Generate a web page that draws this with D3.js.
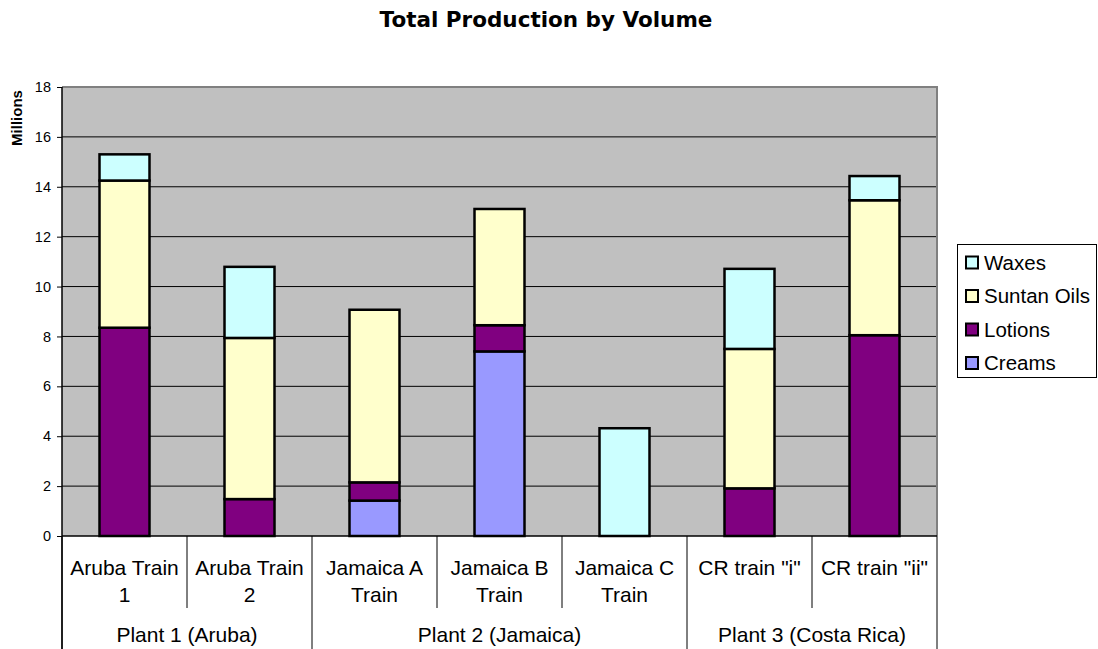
<!DOCTYPE html>
<html><head><meta charset="utf-8">
<script src="https://cdn.jsdelivr.net/npm/d3@7"></script>
<style>body{margin:0;background:#fff}svg{display:block}</style>
</head><body><svg id="c" width="1098" height="649"></svg>
<script>
const categories = ["Aruba Train 1","Aruba Train 2","Jamaica A Train","Jamaica B Train","Jamaica C Train","CR train \"i\"","CR train \"ii\""];
const categoryLines = [["Aruba Train","1"],["Aruba Train","2"],["Jamaica A","Train"],["Jamaica B","Train"],["Jamaica C","Train"],["CR train \"i\""],["CR train \"ii\""]];
const groups = ["Plant 1 (Aruba)","Plant 2 (Jamaica)","Plant 3 (Costa Rica)"];
const groupSizes = [2,3,2];
const seriesNames = ["Creams","Lotions","Suntan Oils","Waxes"];
const creams = [0,0,1.42,7.40,0,0,0];
const lotions = [8.35,1.48,0.73,1.05,0,1.91,8.05];
const suntanOils = [5.90,6.46,6.92,4.66,0,5.59,5.41];
const waxes = [1.05,2.85,0,0,4.32,3.21,0.97];
const yTicks = [0,2,4,6,8,10,12,14,16,18];
const colors = {"Creams":"#9999FF","Lotions":"#800080","Suntan Oils":"#FFFFCC","Waxes":"#CCFFFF"};

const svg = d3.select("#c");
const L=62,R=937,T=87,B=536;
const x = d3.scaleBand().domain(categories).range([L,R]).paddingInner(0.6).paddingOuter(0.3);
const xc = d3.scaleBand().domain(categories).range([L,R]);
const y = d3.scaleLinear().domain([0,18]).range([B,T]);
const font = "'Liberation Sans', Arial, sans-serif";

svg.append("rect").attr("x",L).attr("y",T).attr("width",R-L).attr("height",B-T).attr("fill","#C0C0C0");
svg.append("g").selectAll("line").data(yTicks.filter(d=>d>0)).join("line")
  .attr("x1",L).attr("x2",R).attr("y1",d=>y(d)).attr("y2",d=>y(d)).attr("stroke","#000").attr("stroke-width",1);
svg.append("path").attr("d",`M${L},${T}H${R}V${B}`).attr("fill","none").attr("stroke","#808080").attr("stroke-width",2);

const table = categories.map((c,i)=>({cat:c,"Creams":creams[i],"Lotions":lotions[i],"Suntan Oils":suntanOils[i],"Waxes":waxes[i]}));
const stack = d3.stack().keys(seriesNames)(table);
svg.append("g").selectAll("g").data(stack).join("g").attr("fill",d=>colors[d.key])
  .selectAll("rect").data(d=>d.filter(p=>p[1]-p[0]>0)).join("rect")
  .attr("x",d=>x(d.data.cat)).attr("width",x.bandwidth())
  .attr("y",d=>y(d[1])).attr("height",d=>y(d[0])-y(d[1]))
  .attr("stroke","#000").attr("stroke-width",2.5);

// y axis
const ya = svg.append("g").attr("transform",`translate(${L},0)`)
  .call(d3.axisLeft(y).tickValues(yTicks).tickSize(5).tickPadding(6));
ya.select(".domain").remove();
ya.append("line").attr("x1",0).attr("x2",0).attr("y1",T).attr("y2",649).attr("stroke","#000").attr("stroke-width",1.5);
ya.selectAll(".tick line").attr("stroke","#000");
ya.selectAll("text").attr("font-family",font).attr("font-size","14.5px").attr("fill","#000");

svg.append("text").attr("transform","translate(22,118) rotate(-90)").attr("text-anchor","middle")
  .attr("font-family",font).attr("font-weight","bold").attr("font-size","15px").text("Millions");

// category axis
const cg = svg.append("g");
const fs = "21px";
categories.forEach((c,i)=>{
  const cx = xc(c)+xc.bandwidth()/2;
  const t = cg.append("text").attr("text-anchor","middle").attr("font-family",font).attr("font-size",fs);
  categoryLines[i].forEach((ln,j)=>t.append("tspan").attr("x",cx).attr("y",575+j*27).text(ln));
});
let idx=0;
const bounds=[L];
groups.forEach((g,gi)=>{
  const start=idx, end=idx+groupSizes[gi]-1;
  const x0=xc(categories[start]), x1=xc(categories[end])+xc.bandwidth();
  cg.append("text").attr("x",(x0+x1)/2).attr("y",642).attr("text-anchor","middle")
    .attr("font-family",font).attr("font-size",fs).text(g);
  for(let k=start+1;k<=end;k++){
    cg.append("line").attr("x1",xc(categories[k])).attr("x2",xc(categories[k])).attr("y1",B).attr("y2",608).attr("stroke","#000").attr("stroke-width",1);
  }
  bounds.push(x1);
  idx+=groupSizes[gi];
});
bounds.forEach(bx=>cg.append("line").attr("x1",bx).attr("x2",bx).attr("y1",B).attr("y2",649).attr("stroke","#000").attr("stroke-width",1));
svg.append("line").attr("x1",L).attr("x2",R).attr("y1",B).attr("y2",B).attr("stroke","#000").attr("stroke-width",1.5);

// title
svg.append("text").attr("x",546).attr("y",27).attr("text-anchor","middle")
  .attr("font-family","'DejaVu Sans', Verdana, sans-serif").attr("font-weight","bold").attr("font-size","21.5px").text("Total Production by Volume");

// legend
const lg = svg.append("g");
lg.append("rect").attr("x",957.5).attr("y",244.5).attr("width",139).attr("height",133).attr("fill","#fff").attr("stroke","#000").attr("stroke-width",1);
const legendOrder = seriesNames.slice().reverse();
legendOrder.forEach((s,i)=>{
  const yy = 262+i*33.5;
  lg.append("rect").attr("x",966).attr("y",yy-5.5).attr("width",12).attr("height",12).attr("fill",colors[s]).attr("stroke","#000").attr("stroke-width",2);
  lg.append("text").attr("x",984).attr("y",yy+7.5).attr("font-family",font).attr("font-size","20.5px").text(s);
});
</script></body></html>
